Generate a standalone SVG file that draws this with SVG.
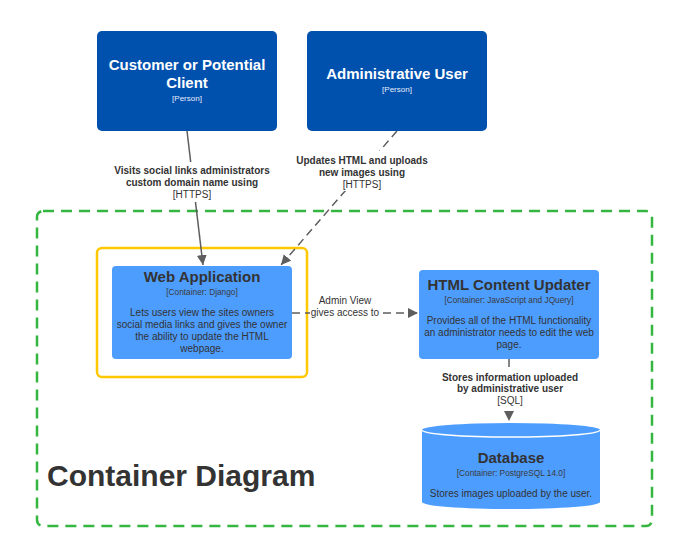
<svg xmlns="http://www.w3.org/2000/svg" width="685" height="557" viewBox="0 0 685 557">
<style>
text{font-family:"Liberation Sans",Arial,sans-serif;text-anchor:middle}
.ptitle{font-size:15px;font-weight:bold;fill:#fff}
.pmeta{font-size:8px;fill:#e8eefa}
.ctitle{font-size:15px;font-weight:bold;fill:#333}
.cmeta{font-size:8.3px;fill:#3a3a3a}
.cdesc{font-size:10px;fill:#333}
.elab{font-size:10px;font-weight:bold;fill:#333}
.etech{font-size:10px;fill:#333}
.enorm{font-size:10px;fill:#333}
.person{fill:#0050ae}
.cont{fill:#4d9dff}
.edge{stroke:#5e5e5e;stroke-width:1.5;fill:none}
.dash{stroke-dasharray:8,5}
</style>
<defs>
<marker id="ah" viewBox="0 0 10 10" refX="10" refY="5" markerWidth="10" markerHeight="10" markerUnits="userSpaceOnUse" orient="auto">
<path d="M0,0 L10,5 L0,10 Z" fill="#5e5e5e"/>
</marker>
</defs>
<rect width="685" height="557" fill="#fff"/>
<g id="boundary">
<rect x="37" y="211" width="615" height="315" rx="6" fill="none" stroke="#35b640" stroke-width="2.5" stroke-dasharray="11,7"/>
<text x="47" y="486" style="font-size:30px;font-weight:bold;fill:#333;text-anchor:start">Container Diagram</text>
</g>
<g id="highlight">
<rect x="97" y="248" width="210" height="129" rx="5" fill="none" stroke="#ffc800" stroke-width="2.5"/>
</g>
<g id="connectors">
<line class="edge" x1="187" y1="131" x2="203" y2="265" marker-end="url(#ah)"/>
<rect x="113" y="162" width="160" height="40" fill="#fff"/>
<text class="elab" x="192" y="174">Visits social links administrators</text>
<text class="elab" x="192" y="186">custom domain name using</text>
<text class="etech" x="192" y="198">[HTTPS]</text>
<line class="edge dash" x1="397" y1="131" x2="281" y2="265" marker-end="url(#ah)"/>
<rect x="295" y="151" width="134" height="40" fill="#fff"/>
<text class="elab" x="362" y="164">Updates HTML and uploads</text>
<text class="elab" x="362" y="176">new images using</text>
<text class="etech" x="362" y="188">[HTTPS]</text>
<line class="edge dash" x1="292" y1="313" x2="418" y2="313" marker-end="url(#ah)"/>
<rect x="310" y="294" width="71" height="24" fill="#fff"/>
<text class="enorm" x="345" y="304">Admin View</text>
<text class="enorm" x="345" y="316">gives access to</text>
<line class="edge dash" x1="509" y1="359" x2="509" y2="421" marker-end="url(#ah)"/>
<rect x="440" y="368" width="140" height="38" fill="#fff"/>
<text class="elab" x="510" y="381">Stores information uploaded</text>
<text class="elab" x="510" y="392">by administrative user</text>
<text class="etech" x="510" y="404">[SQL]</text>
</g>
<g id="customer">
<rect class="person" x="97" y="31" width="180" height="100" rx="5"/>
<text class="ptitle" x="187" y="70">Customer or Potential</text>
<text class="ptitle" x="187" y="88">Client</text>
<text class="pmeta" x="187" y="101">[Person]</text>
</g>
<g id="admin">
<rect class="person" x="307" y="31" width="180" height="100" rx="5"/>
<text class="ptitle" x="397" y="79">Administrative User</text>
<text class="pmeta" x="397" y="92">[Person]</text>
</g>
<g id="webapp">
<rect class="cont" x="112" y="266" width="180" height="93" rx="4"/>
<text class="ctitle" x="202" y="282">Web Application</text>
<text class="cmeta" x="202" y="295">[Container: Django]</text>
<text class="cdesc" x="202" y="316">Lets users view the sites owners</text>
<text class="cdesc" x="202" y="328">social media links and gives the owner</text>
<text class="cdesc" x="202" y="340">the ability to update the HTML</text>
<text class="cdesc" x="202" y="352">webpage.</text>
</g>
<g id="updater">
<rect class="cont" x="419" y="270" width="180" height="89" rx="4"/>
<text class="ctitle" x="509" y="290">HTML Content Updater</text>
<text class="cmeta" x="509" y="303">[Container: JavaScript and JQuery]</text>
<text class="cdesc" x="509" y="324">Provides all of the HTML functionality</text>
<text class="cdesc" x="509" y="336">an administrator needs to edit the web</text>
<text class="cdesc" x="509" y="348">page.</text>
</g>
<g id="database">
<path class="cont" d="M422,430 A89,7 0 0 1 600,430 V502 A89,7 0 0 1 422,502 Z"/>
<path d="M422,430 A89,7 0 0 0 600,430" fill="none" stroke="#fff" stroke-width="1.5"/>
<text class="ctitle" x="511" y="463">Database</text>
<text class="cmeta" x="511" y="476">[Container: PostgreSQL 14.0]</text>
<text class="cdesc" x="511" y="497">Stores images uploaded by the user.</text>
</g>
</svg>
